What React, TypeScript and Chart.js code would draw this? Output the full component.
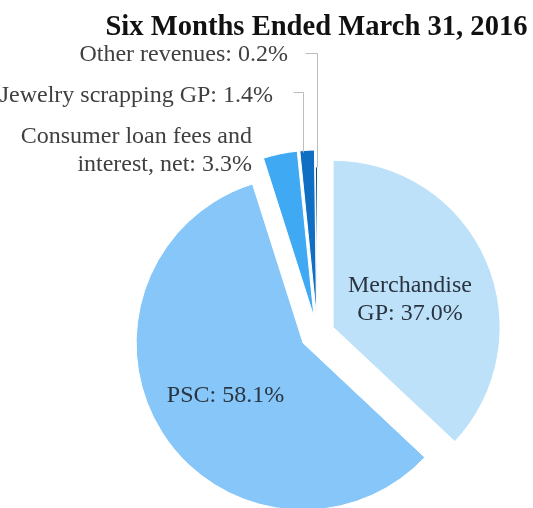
import React, { useEffect, useRef } from "react";
import { Chart, registerables } from "chart.js";

Chart.register(...registerables);

// ---------- data ----------
const title = "Six Months Ended March 31, 2016";
const categories = [
  "Merchandise GP",
  "PSC",
  "Consumer loan fees and interest, net",
  "Jewelry scrapping GP",
  "Other revenues",
];
const values = [37.0, 58.1, 3.3, 1.4, 0.2];
// label text split into lines (the percentage is appended to the last line)
const labelLines = [
  ["Merchandise", "GP"],
  ["PSC"],
  ["Consumer loan fees and", "interest, net"],
  ["Jewelry scrapping GP"],
  ["Other revenues"],
];

// ---------- styles / layout ----------
const colors = ["#BEE1FA", "#86C6F8", "#40A9F3", "#106EC3", "#0B4A86"];
const explodePx = [17, 17, 17, 17, 0];
const labelLayout = [
  { x: 410, y: 292, align: "center", color: "#2A3440" },
  { x: 225.5, y: 402, align: "center", color: "#2A3440" },
  { x: 252, y: 143, align: "right", color: "#404040" },
  { x: 273, y: 102, align: "right", color: "#404040" },
  { x: 288, y: 60.5, align: "right", color: "#404040" },
];
const leaderLines = [
  null,
  null,
  null,
  [[293, 92], [303, 92], [303, 152]],
  [[305, 53], [317, 53], [317, 167]],
];
const FONT = '"Liberation Serif", "Times New Roman", serif';

const explodePlugin = {
  id: "explodeSlices",
  afterDatasetsUpdate(chart: any) {
    const meta = chart.getDatasetMeta(0);
    meta.data.forEach((arc: any, i: number) => {
      const mid = (arc.startAngle + arc.endAngle) / 2;
      arc.x += Math.cos(mid) * explodePx[i];
      arc.y += Math.sin(mid) * explodePx[i];
    });
  },
};

const textPlugin = {
  id: "texts",
  afterDraw(chart: any) {
    const ctx = chart.ctx;
    ctx.save();
    // title
    ctx.fillStyle = "#111111";
    ctx.font = `bold 28.6px ${FONT}`;
    ctx.textAlign = "center";
    ctx.textBaseline = "alphabetic";
    ctx.fillText(title, 316.5, 35);

    // leader lines
    ctx.strokeStyle = "#BDBDBD";
    ctx.lineWidth = 1;
    leaderLines.forEach((pts) => {
      if (!pts) return;
      ctx.beginPath();
      pts.forEach((p, j) => {
        if (j === 0) ctx.moveTo(p[0] + 0.5, p[1] + 0.5);
        else ctx.lineTo(p[0] + 0.5, p[1] + 0.5);
      });
      ctx.stroke();
    });

    // labels
    ctx.font = `24px ${FONT}`;
    labelLines.forEach((lines, i) => {
      const lay = labelLayout[i];
      ctx.fillStyle = lay.color;
      ctx.textAlign = lay.align as CanvasTextAlign;
      lines.forEach((line, j) => {
        const txt = j === lines.length - 1 ? `${line}: ${values[i].toFixed(1)}%` : line;
        ctx.fillText(txt, lay.x, lay.y + j * 28);
      });
    });
    ctx.restore();
  },
};

export default function App() {
  const ref = useRef<HTMLCanvasElement | null>(null);
  useEffect(() => {
    if (!ref.current) return;
    const chart = new Chart(ref.current, {
      type: "pie",
      data: {
        labels: categories,
        datasets: [
          {
            data: values,
            backgroundColor: colors,
            borderColor: "#FFFFFF",
            borderWidth: 1,
          },
        ],
      },
      options: {
        animation: false,
        responsive: false,
        radius: 167,
        layout: { padding: { left: 102, right: 0, top: 160, bottom: 0 } },
        plugins: {
          legend: { display: false },
          title: { display: false },
          tooltip: { enabled: false },
        },
        events: [],
      },
      plugins: [explodePlugin, textPlugin],
    });
    return () => chart.destroy();
  }, []);
  return (
    <div style={{ position: "absolute", left: 0, top: 0, width: 533, height: 508, background: "#fff" }}>
      <canvas ref={ref} width={533} height={508} style={{ display: "block", width: 533, height: 508 }} />
    </div>
  );
}
